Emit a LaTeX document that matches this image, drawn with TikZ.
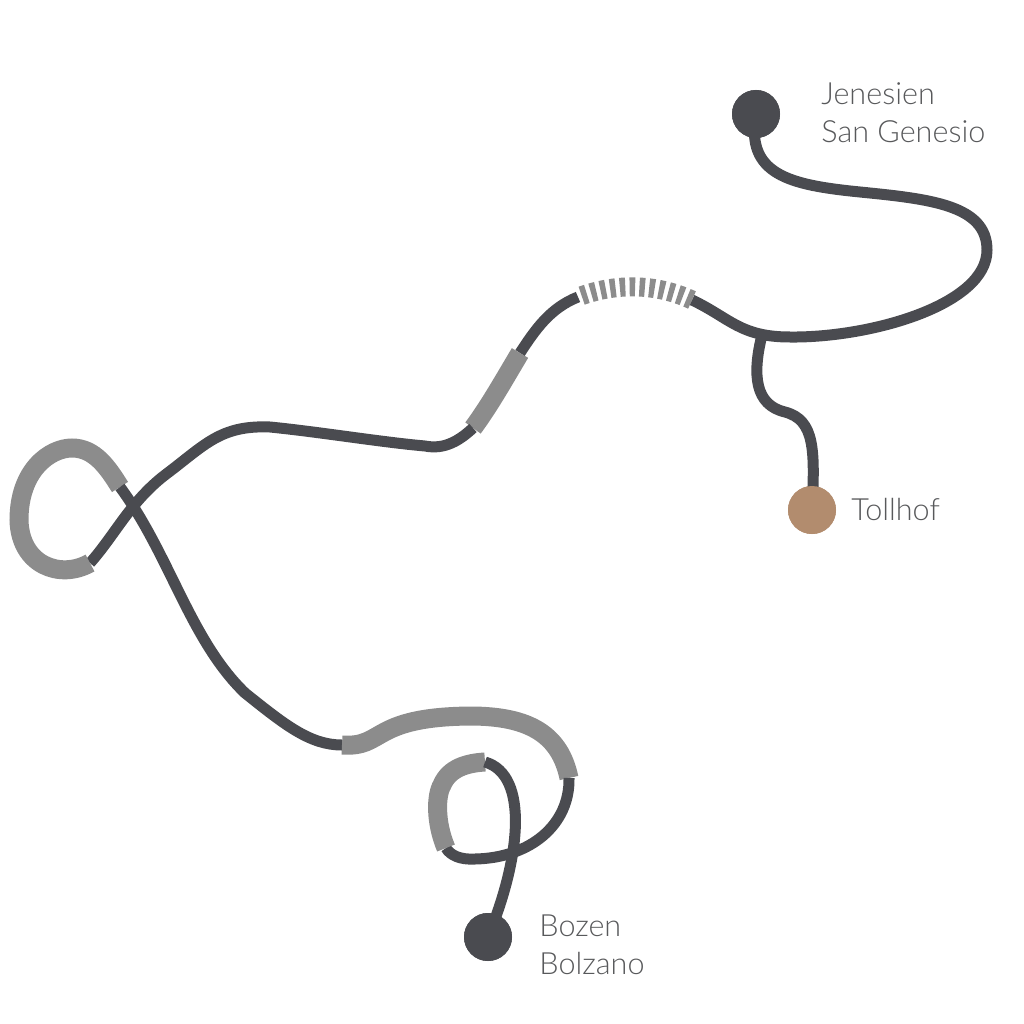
\documentclass[tikz,border=0pt]{standalone}
\usepackage{fontspec}
\setmainfont{Lato Light}
\definecolor{roaddark}{HTML}{4A4B50}
\definecolor{roadgray}{HTML}{8C8C8C}
\definecolor{stopbrown}{HTML}{B28C6E}
\definecolor{labelgray}{HTML}{58595B}
\tikzset{
    road/.style = {draw = roaddark , line width = 1.1mm},
    tunnel/.style = {draw = roadgray , line width = 1.9mm},
    hatched/.style = {draw = roadgray , line width = 1.9mm , dash pattern = on 0.55mm off 0.43mm},
    stopdot/.style = {circle , fill = roaddark , minimum size = 4.8mm , inner sep = 0pt},
    stoplabel/.style = {text = labelgray , font = \fontsize{8.7pt}{10.8pt}\selectfont , align = left , anchor = west}
}
\begin{document}
\begin{tikzpicture}[x = 0.1mm , y = -0.1mm]
    \useasboundingbox (0,0) rectangle (1024,1024);

    % Ενδιαμεσα σημεια
    \coordinate (split) at (762,335);
    \coordinate (hatchR) at (692,300);
    \coordinate (hatchL) at (578,297);
    \coordinate (grayA) at (520,353);
    \coordinate (grayB) at (473,428);
    \coordinate (loopA) at (90,563);
    \coordinate (loopB) at (120,487);
    \coordinate (grayC) at (342,745);
    \coordinate (grayD) at (569,778);
    \coordinate (loopC) at (446,848);
    \coordinate (loopD) at (485,762);

    % Σταθμοι
    \node[stopdot] (jenesien) at (756,114) {};
    \node[stopdot] (bozen) at (488,937) {};
    \node[stopdot , fill = stopbrown] (tollhof) at (812,510) {};
    \node[stoplabel] (jenesienlabel) at (809,113) {Jenesien\\San Genesio};
    \node[stoplabel] (bozenlabel) at (527,945) {Bozen\\Bolzano};
    \node[stoplabel] (tollhoflabel) at (839,509) {Tollhof};

    % Δρομος
    \draw[road] (jenesien.center) .. controls (745,175) and (790,185) .. (860,192)
        .. controls (930,199) and (987,205) .. (987,250)
        .. controls (987,305) and (870,338) .. (790,337)
        .. controls (740,337) and (730,318) .. (hatchR);
    \draw[hatched] (hatchR) .. controls (655,283) and (615,283) .. (hatchL);
    \draw[road] (hatchL) .. controls (550,308) and (535,330) .. (grayA);
    \draw[tunnel] (grayA) .. controls (505,378) and (490,405) .. (grayB);
    \draw[road] (grayB) .. controls (460,440) and (445,450) .. (425,446)
        .. controls (380,442) and (320,432) .. (270,427)
        .. controls (220,425) and (205,445) .. (165,475)
        .. controls (130,502) and (115,535) .. (loopA);
    \draw[tunnel] (loopA) .. controls (60,580) and (20,565) .. (19,520)
        .. controls (19,470) and (50,448) .. (72,448)
        .. controls (95,448) and (108,468) .. (loopB);
    \draw[road] (loopB) .. controls (170,555) and (190,640) .. (245,693)
        .. controls (285,725) and (310,745) .. (grayC);
    \draw[tunnel] (grayC) .. controls (385,748) and (370,717) .. (470,716)
        .. controls (530,716) and (560,735) .. (grayD);
    \draw[road] (grayD) .. controls (570,825) and (530,858) .. (475,859)
        .. controls (460,860) and (450,855) .. (loopC);
    \draw[tunnel] (loopC) .. controls (435,822) and (436,795) .. (442,785)
        .. controls (449,768) and (467,763) .. (loopD);
    \draw[road] (loopD) .. controls (530,775) and (520,860) .. (bozen.center);
    \draw[road] (split) .. controls (752,375) and (755,405) .. (785,412)
        .. controls (815,420) and (815,450) .. (tollhof.center);

    % Κουκκιδες πανω απο τις γραμμες
    \node[stopdot] at (jenesien) {};
    \node[stopdot] at (bozen) {};
    \node[stopdot , fill = stopbrown] at (tollhof) {};
\end{tikzpicture}
\end{document}
